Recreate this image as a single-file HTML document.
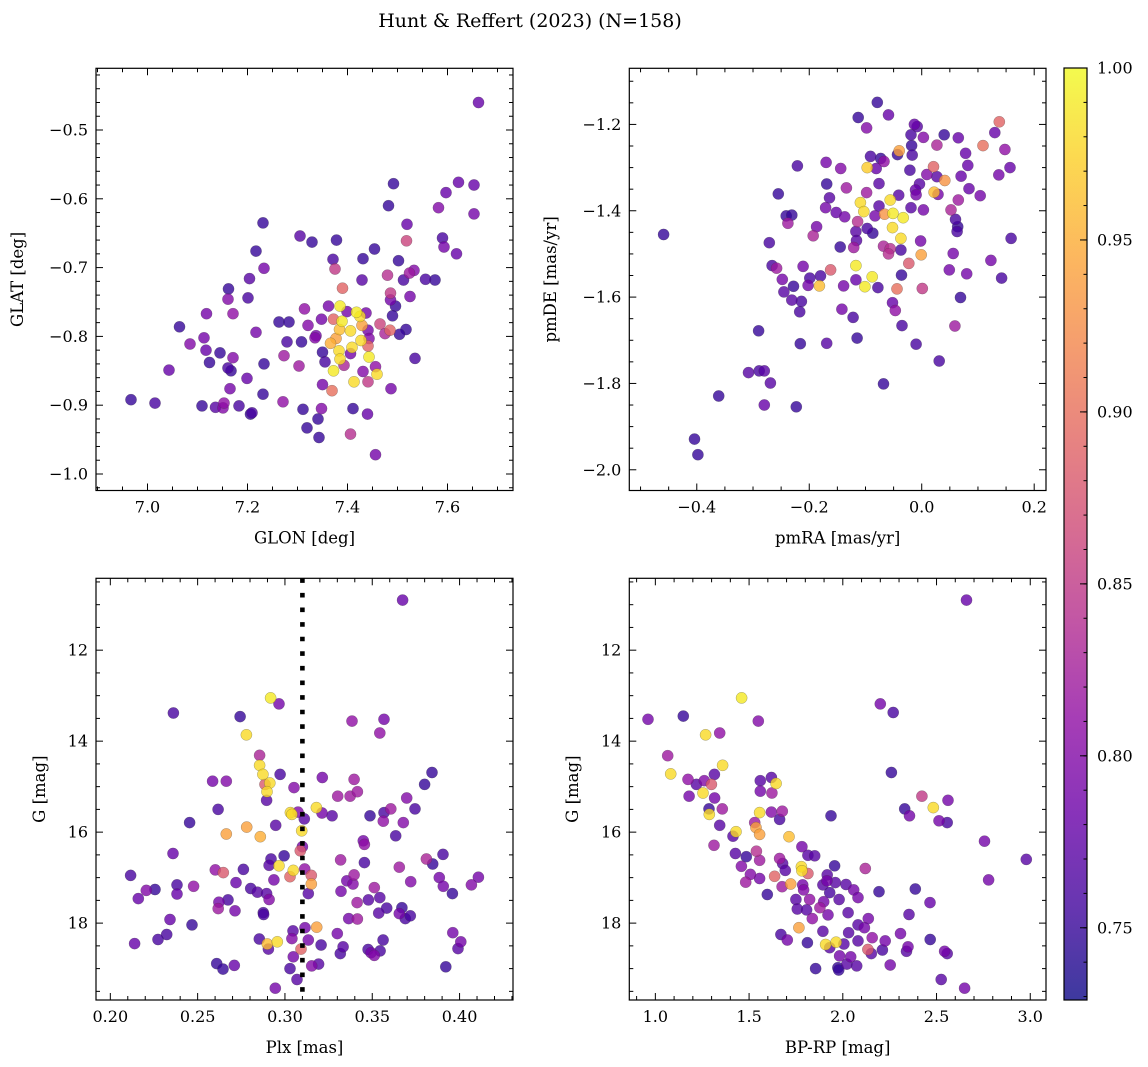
<!DOCTYPE html>
<html><head><meta charset="utf-8"><style>
html,body{margin:0;padding:0;background:#fff;}
svg{display:block;font-family:"DejaVu Serif","Liberation Serif",serif;}
</style></head><body>
<svg id="fig" width="1148" height="1067" viewBox="0 0 1148 1067" xmlns="http://www.w3.org/2000/svg">
<rect x="0" y="0" width="1148" height="1067" fill="#fff"/>
<text x="530" y="27" font-size="19" text-anchor="middle" fill="#000">Hunt &amp; Reffert (2023) (N=158)</text>
</svg>
<script>
// ---------- Data ----------
const glon=[7.662,7.492,7.482,7.622,7.653,7.597,7.582,7.653,7.231,7.519,7.305,7.329,7.378,7.518,7.590,7.593,7.618,7.454,7.217,7.371,7.431,7.502,7.233,7.375,7.480,7.533,7.524,7.556,7.575,7.512,7.429,7.204,7.390,7.162,7.161,7.201,7.486,7.486,7.525,7.496,7.490,7.118,7.171,7.314,7.362,7.385,7.418,7.425,7.437,7.399,7.372,7.348,7.389,7.429,7.263,7.283,7.321,7.465,7.485,7.475,7.517,7.504,7.064,7.217,7.113,7.337,7.335,7.406,7.384,7.377,7.441,7.427,7.443,7.279,7.308,7.085,7.366,7.409,7.441,7.117,7.383,7.406,7.350,7.145,7.273,7.171,7.443,7.535,7.385,7.124,7.355,7.233,7.303,7.393,7.456,7.161,7.167,7.372,7.043,7.431,7.459,7.199,7.413,7.441,7.350,7.165,7.487,7.369,7.231,6.967,7.015,7.109,7.136,7.153,7.151,7.183,7.206,7.209,7.271,7.311,7.348,7.411,7.440,7.341,7.319,7.343,7.406,7.456];
const glat=[-0.460,-0.578,-0.610,-0.576,-0.580,-0.591,-0.613,-0.622,-0.635,-0.637,-0.654,-0.663,-0.660,-0.661,-0.657,-0.670,-0.680,-0.673,-0.676,-0.688,-0.687,-0.690,-0.701,-0.702,-0.711,-0.704,-0.708,-0.717,-0.718,-0.718,-0.718,-0.716,-0.730,-0.731,-0.746,-0.744,-0.737,-0.747,-0.742,-0.756,-0.770,-0.767,-0.767,-0.760,-0.756,-0.756,-0.765,-0.771,-0.766,-0.764,-0.775,-0.775,-0.778,-0.784,-0.779,-0.779,-0.784,-0.782,-0.791,-0.796,-0.790,-0.797,-0.786,-0.794,-0.802,-0.799,-0.802,-0.792,-0.790,-0.803,-0.791,-0.806,-0.803,-0.808,-0.808,-0.811,-0.810,-0.816,-0.814,-0.820,-0.821,-0.825,-0.823,-0.824,-0.828,-0.831,-0.830,-0.832,-0.833,-0.838,-0.837,-0.840,-0.843,-0.842,-0.844,-0.846,-0.850,-0.850,-0.849,-0.851,-0.855,-0.861,-0.866,-0.866,-0.870,-0.876,-0.876,-0.879,-0.884,-0.892,-0.897,-0.901,-0.903,-0.897,-0.904,-0.901,-0.913,-0.911,-0.895,-0.906,-0.905,-0.905,-0.913,-0.920,-0.933,-0.947,-0.942,-0.972];
const prob1=[.78,.75,.75,.78,.78,.78,.80,.79,.75,.78,.77,.75,.75,.86,.76,.79,.78,.75,.75,.76,.75,.75,.79,.85,.84,.80,.82,.76,.75,.76,.77,.77,.89,.75,.80,.76,.85,.79,.79,.75,.75,.79,.81,.81,.79,.99,.99,.98,.79,.79,.89,.79,.99,.94,.75,.75,.80,.86,.89,.83,.75,.75,.75,.79,.79,.79,.80,.98,.96,.94,.79,.98,.80,.76,.75,.80,.95,.98,.89,.78,.98,.79,.75,.75,.82,.80,.99,.76,.98,.75,.76,.75,.82,.83,.81,.76,.75,.99,.78,.80,.98,.78,.98,.85,.79,.79,.79,.90,.75,.75,.76,.75,.77,.81,.80,.76,.75,.76,.81,.75,.80,.75,.78,.75,.75,.75,.84,.79];

const pmra=[-0.079,-0.113,-0.059,-0.098,-0.013,-0.008,0.003,-0.019,0.040,0.065,0.138,0.130,0.109,0.148,0.027,-0.018,-0.040,-0.043,-0.017,0.078,-0.091,-0.073,-0.067,-0.081,-0.097,-0.221,-0.170,-0.144,-0.021,0.021,0.082,0.157,0.137,0.009,0.041,0.027,0.070,-0.076,-0.004,-0.169,-0.134,0.084,0.022,0.029,-0.011,0.104,-0.255,-0.098,-0.041,-0.010,-0.164,-0.056,0.065,-0.109,-0.171,-0.076,-0.019,0.003,0.052,-0.103,-0.152,-0.066,-0.051,-0.033,-0.137,-0.083,-0.241,-0.231,-0.238,0.060,0.064,0.063,-0.114,-0.097,-0.087,-0.052,-0.037,-0.187,-0.193,-0.459,0.159,-0.117,-0.116,-0.002,-0.271,-0.145,-0.121,-0.068,-0.056,-0.059,-0.037,-0.001,0.056,0.123,-0.023,-0.266,-0.258,-0.211,-0.162,-0.117,0.049,0.080,0.142,-0.036,-0.088,-0.199,-0.180,-0.248,-0.202,-0.182,-0.228,-0.139,-0.117,-0.101,-0.078,-0.044,0.001,-0.245,-0.231,-0.214,-0.217,0.069,-0.052,-0.047,-0.142,-0.122,-0.035,0.059,-0.115,-0.290,-0.216,-0.169,-0.010,0.031,-0.308,-0.289,-0.280,-0.269,-0.068,-0.361,-0.280,-0.223,-0.404,-0.398];
const pmde=[-1.149,-1.184,-1.178,-1.208,-1.200,-1.205,-1.230,-1.224,-1.224,-1.231,-1.194,-1.219,-1.249,-1.258,-1.248,-1.249,-1.261,-1.270,-1.271,-1.267,-1.274,-1.279,-1.286,-1.302,-1.300,-1.296,-1.288,-1.302,-1.306,-1.298,-1.295,-1.300,-1.317,-1.316,-1.330,-1.321,-1.320,-1.337,-1.338,-1.338,-1.347,-1.349,-1.357,-1.362,-1.352,-1.365,-1.361,-1.358,-1.364,-1.363,-1.370,-1.375,-1.375,-1.381,-1.393,-1.389,-1.393,-1.398,-1.398,-1.402,-1.404,-1.408,-1.406,-1.416,-1.414,-1.412,-1.412,-1.410,-1.429,-1.420,-1.437,-1.448,-1.425,-1.441,-1.452,-1.439,-1.464,-1.437,-1.458,-1.455,-1.464,-1.448,-1.469,-1.470,-1.474,-1.484,-1.485,-1.482,-1.488,-1.500,-1.491,-1.502,-1.499,-1.515,-1.522,-1.527,-1.533,-1.529,-1.537,-1.527,-1.537,-1.546,-1.556,-1.549,-1.553,-1.556,-1.551,-1.559,-1.573,-1.574,-1.575,-1.574,-1.560,-1.576,-1.578,-1.581,-1.580,-1.588,-1.607,-1.610,-1.634,-1.601,-1.613,-1.631,-1.628,-1.647,-1.666,-1.667,-1.695,-1.678,-1.708,-1.707,-1.709,-1.748,-1.775,-1.771,-1.771,-1.799,-1.801,-1.829,-1.850,-1.854,-1.929,-1.965];
const prob2=[.75,.75,.78,.80,.78,.77,.80,.76,.75,.78,.89,.78,.90,.81,.83,.75,.94,.75,.76,.78,.76,.75,.81,.78,.97,.76,.79,.80,.76,.89,.78,.78,.79,.80,.93,.77,.78,.77,.77,.75,.82,.78,.96,.79,.78,.79,.75,.82,.77,.79,.77,.98,.82,.98,.79,.77,.77,.79,.83,.98,.78,.93,.99,.99,.79,.79,.75,.75,.82,.76,.75,.76,.84,.76,.75,.98,.98,.79,.83,.75,.76,.77,.77,.79,.76,.75,.82,.83,.84,.84,.76,.94,.79,.79,.88,.76,.82,.79,.88,.99,.79,.79,.76,.75,.99,.76,.76,.79,.79,.96,.75,.79,.78,.99,.76,.90,.85,.77,.77,.76,.76,.75,.78,.81,.79,.76,.76,.82,.75,.75,.75,.77,.76,.76,.77,.76,.77,.77,.75,.75,.78,.75,.75,.75];

const plx=[0.3674,0.2918,0.2966,0.2361,0.2743,0.3384,0.3567,0.3543,0.2779,0.2855,0.2855,0.2874,0.2913,0.2886,0.2897,0.2895,0.2972,0.2586,0.2664,0.3052,0.3214,0.3396,0.3302,0.3373,0.3415,0.3842,0.3800,0.3697,0.2617,0.3180,0.3212,0.3270,0.3031,0.3040,0.3075,0.3111,0.3606,0.3745,0.3487,0.3567,0.3563,0.3678,0.2454,0.2947,0.2664,0.2781,0.2859,0.3096,0.3634,0.3449,0.3455,0.3100,0.3088,0.2359,0.2920,0.2995,0.2909,0.2966,0.3048,0.3113,0.3319,0.3455,0.3810,0.3905,0.3846,0.3655,0.2601,0.2647,0.2762,0.2116,0.3029,0.3151,0.3151,0.2937,0.2720,0.3396,0.3354,0.3390,0.3720,0.3884,0.3907,0.4108,0.4068,0.2382,0.2477,0.2256,0.2206,0.2382,0.2160,0.2804,0.2842,0.2895,0.2909,0.3134,0.3321,0.3512,0.3959,0.3478,0.3543,0.3413,0.2674,0.2622,0.2618,0.2714,0.2876,0.2878,0.3537,0.3583,0.3670,0.3655,0.3689,0.3718,0.3365,0.3415,0.2342,0.2468,0.3182,0.3115,0.3046,0.3300,0.3961,0.2323,0.2273,0.2139,0.2853,0.2899,0.2956,0.2905,0.3040,0.3134,0.3092,0.3207,0.3333,0.3317,0.4007,0.3991,0.3476,0.3493,0.3512,0.3545,0.3562,0.3048,0.2609,0.2645,0.2710,0.3153,0.3193,0.3029,0.3069,0.3921,0.2945];
const gmag3=[10.90,13.05,13.18,13.38,13.46,13.56,13.52,13.82,13.86,14.31,14.53,14.73,14.92,14.95,15.11,15.30,14.73,14.88,14.88,15.02,14.80,14.84,15.21,15.21,15.11,14.69,14.95,15.25,15.50,15.46,15.58,15.64,15.57,15.61,15.56,15.71,15.49,15.49,15.64,15.57,15.76,15.79,15.79,15.85,16.04,15.89,16.10,15.97,16.08,16.19,16.27,16.32,16.41,16.47,16.59,16.52,16.73,16.74,16.84,16.81,16.61,16.67,16.59,16.49,16.70,16.77,16.83,16.89,16.82,16.95,16.98,16.95,17.14,17.05,17.11,16.94,17.07,17.14,17.09,17.00,17.19,16.99,17.16,17.16,17.19,17.26,17.28,17.36,17.46,17.24,17.32,17.35,17.48,17.35,17.30,17.22,17.35,17.49,17.44,17.55,17.49,17.54,17.68,17.73,17.77,17.81,17.78,17.67,17.66,17.79,17.90,17.84,17.90,17.91,17.92,18.04,18.09,18.10,18.17,18.23,18.21,18.25,18.36,18.45,18.35,18.46,18.41,18.57,18.34,18.37,18.57,18.48,18.52,18.67,18.41,18.56,18.58,18.65,18.71,18.61,18.37,18.74,18.89,19.01,18.93,18.94,18.90,19.00,19.24,18.96,19.43];
const prob3=[.78,.99,.79,.76,.75,.81,.79,.81,.98,.83,.98,.98,.98,.88,.98,.77,.76,.79,.80,.80,.79,.82,.82,.82,.82,.75,.75,.80,.76,.98,.79,.77,.98,.98,.80,.77,.82,.76,.75,.76,.81,.80,.75,.77,.94,.94,.95,.98,.76,.79,.81,.79,.88,.78,.76,.75,.77,.98,.98,.81,.82,.76,.83,.76,.75,.82,.81,.88,.76,.76,.89,.88,.94,.79,.78,.82,.79,.80,.80,.79,.79,.79,.80,.76,.81,.75,.80,.78,.78,.76,.77,.77,.80,.77,.79,.82,.75,.77,.77,.82,.76,.79,.82,.79,.76,.76,.77,.76,.75,.79,.76,.76,.79,.82,.78,.75,.94,.79,.77,.79,.79,.76,.76,.78,.76,.96,.98,.77,.80,.79,.89,.76,.77,.76,.79,.77,.76,.79,.80,.76,.76,.79,.75,.75,.78,.80,.77,.76,.77,.75,.79];

const bprp=[2.660,1.460,2.200,2.269,0.961,1.149,1.549,1.268,1.343,1.066,1.359,1.082,2.259,1.315,1.174,1.219,1.261,1.299,1.180,1.254,1.316,1.560,1.619,1.560,1.622,1.644,2.422,2.483,2.561,1.286,1.288,1.357,1.556,1.619,1.677,1.663,1.937,2.330,2.356,2.513,2.557,1.343,1.530,1.537,1.556,1.430,1.414,1.713,1.313,2.756,2.979,1.427,1.539,1.485,1.556,1.459,1.507,1.482,1.556,1.663,1.679,1.693,1.636,1.676,1.722,1.782,1.814,1.850,1.779,1.782,1.814,1.956,1.917,2.120,1.597,1.786,1.894,1.915,1.960,2.017,2.058,2.081,1.930,1.980,1.791,1.750,1.823,1.898,1.757,1.807,1.878,1.921,1.837,2.028,2.193,2.387,2.465,2.353,2.778,2.081,2.136,2.115,1.766,1.894,2.031,1.670,1.704,1.811,1.908,1.964,1.930,2.006,2.081,2.157,2.226,2.308,2.466,2.134,2.152,2.211,2.348,2.340,2.543,2.557,1.983,2.042,2.022,2.074,1.974,1.978,1.855,2.253,2.525,2.650];
const gmag4=[10.90,13.05,13.18,13.37,13.52,13.45,13.56,13.86,13.82,14.32,14.53,14.72,14.69,14.73,14.84,14.95,14.87,14.95,15.21,15.14,15.25,14.87,14.80,15.10,15.14,14.93,15.21,15.46,15.30,15.49,15.61,15.49,15.57,15.56,15.54,15.72,15.64,15.49,15.64,15.75,15.79,15.85,15.79,15.90,16.05,15.99,16.09,16.10,16.29,16.20,16.60,16.47,16.42,16.54,16.62,16.75,16.93,17.10,17.02,16.58,16.69,16.84,16.97,17.20,17.14,16.32,16.51,16.52,16.76,16.85,16.91,16.74,16.94,16.80,17.37,17.16,17.16,17.07,17.11,17.15,17.27,17.44,17.33,17.48,17.27,17.48,17.48,17.53,17.69,17.71,17.66,17.82,17.90,17.77,17.31,17.25,17.55,17.81,17.05,18.04,17.90,18.10,18.10,18.18,18.21,18.25,18.37,18.43,18.47,18.42,18.54,18.46,18.39,18.32,18.39,18.23,18.36,18.58,18.67,18.59,18.52,18.62,18.62,18.67,18.72,18.74,18.90,18.94,18.98,19.03,19.00,18.92,19.24,19.43];
const prob4=[.78,.99,.79,.76,.79,.75,.80,.98,.81,.82,.98,.98,.75,.77,.81,.77,.80,.88,.79,.98,.79,.77,.77,.79,.82,.98,.85,.98,.79,.75,.98,.82,.98,.80,.82,.76,.75,.75,.79,.79,.76,.77,.82,.94,.94,.98,.77,.96,.82,.79,.77,.77,.84,.75,.82,.80,.80,.82,.79,.82,.77,.77,.89,.82,.94,.79,.77,.77,.98,.98,.88,.75,.77,.83,.75,.79,.77,.79,.77,.77,.79,.79,.76,.77,.80,.77,.81,.79,.77,.77,.82,.79,.81,.77,.75,.75,.78,.77,.79,.77,.79,.79,.94,.77,.77,.76,.79,.75,.98,.98,.77,.77,.77,.81,.79,.79,.75,.88,.77,.76,.79,.77,.79,.77,.79,.79,.77,.77,.75,.75,.75,.79,.77,.79];

const cbTicks=[0.75,0.80,0.85,0.90,0.95,1.00];
const parallaxLine=[0.31];

// ---------- Helpers ----------
const NS="http://www.w3.org/2000/svg";
const svg=document.getElementById('fig');
const VMIN=0.729, VMAX=1.0;
const plasma=[[13,8,135],[65,4,157],[106,0,168],[143,13,164],[177,42,144],[204,71,120],[225,100,98],[242,132,75],[252,166,54],[252,206,37],[240,249,33]];
function cmap(v){
  let t=(v-VMIN)/(VMAX-VMIN); t=Math.max(0,Math.min(1,t));
  const f=t*10, i=Math.min(9,Math.floor(f)), r=f-i;
  const a=plasma[i], b=plasma[i+1];
  return 'rgb('+[0,1,2].map(k=>Math.round(a[k]+(b[k]-a[k])*r)).join(',')+')';
}
function mk(tag,attrs,parent){
  const e=document.createElementNS(NS,tag);
  for(const k in attrs) e.setAttribute(k,attrs[k]);
  (parent||svg).appendChild(e); return e;
}
function fmt(v,d){return (v<0?'\u2212':'')+Math.abs(v).toFixed(d);}

function panel(cfg){
  const g=mk('g',{});
  
  
  const L=cfg.box[0],T=cfg.box[1],R=cfg.box[2],B=cfg.box[3];
  const sx=v=>L+(v-cfg.xd[0])/(cfg.xd[1]-cfg.xd[0])*(R-L);
  const sy=v=>cfg.yinv? T+(v-cfg.yd[0])/(cfg.yd[1]-cfg.yd[0])*(B-T) : B-(v-cfg.yd[0])/(cfg.yd[1]-cfg.yd[0])*(B-T);
  const clip='clip'+cfg.name;
  const cp=mk('clipPath',{id:clip},g); mk('rect',{x:L,y:T,width:R-L,height:B-T},cp);
  const pg=mk('g',{'clip-path':'url(#'+clip+')'},g);
  const idx=cfg.x.map((_,i)=>i).sort((a,b)=>cfg.c[a]-cfg.c[b]);
  idx.forEach(i=>{
    const c=mk('circle',{cx:sx(cfg.x[i]).toFixed(1),cy:sy(cfg.y[i]).toFixed(1),r:5.6,fill:cmap(cfg.c[i]),'fill-opacity':0.8,stroke:'rgba(60,60,60,0.45)','stroke-width':0.5},pg);
    
    
  });
  if(cfg.vline){
    cfg.vline.forEach(v=>{
      const l=mk('line',{x1:sx(v),x2:sx(v),y1:T,y2:B,stroke:'#000','stroke-width':4.6,'stroke-dasharray':'4.6 10'},pg);
      
      
    });
  }
  const tg=mk('g',{stroke:'#000','stroke-width':1},g);
  const eps=1e-9;
  function range(a,b,s){const o=[];let k=Math.ceil((a-eps)/s);for(;k*s<=b+eps;k++)o.push(+(k*s).toFixed(6));return o;}
  range(cfg.xd[0],cfg.xd[1],cfg.xminor).forEach(v=>{
    const x=sx(v); const maj=Math.abs(v/cfg.xmajor-Math.round(v/cfg.xmajor))<1e-6; const len=maj?7:4;
    mk('line',{x1:x,x2:x,y1:B,y2:B-len},tg); mk('line',{x1:x,x2:x,y1:T,y2:T+len},tg);
    if(maj){const t=mk('text',{x:x,y:B+22,'font-size':16,'text-anchor':'middle',stroke:'none',fill:'#000'},g);t.textContent=fmt(v,cfg.xdec);
      
      }
  });
  range(Math.min(cfg.yd[0],cfg.yd[1]),Math.max(cfg.yd[0],cfg.yd[1]),cfg.yminor).forEach(v=>{
    const y=sy(v); const maj=Math.abs(v/cfg.ymajor-Math.round(v/cfg.ymajor))<1e-6; const len=maj?7:4;
    mk('line',{x1:L,x2:L+len,y1:y,y2:y},tg); mk('line',{x1:R,x2:R-len,y1:y,y2:y},tg);
    if(maj){const t=mk('text',{x:L-8,y:y+5.5,'font-size':16,'text-anchor':'end',stroke:'none',fill:'#000'},g);t.textContent=fmt(v,cfg.ydec);
      
      }
  });
  const fr=mk('rect',{x:L,y:T,width:R-L,height:B-T,fill:'none',stroke:'#000','stroke-width':1.2},g);
  
  
  const xl=mk('text',{x:(L+R)/2,y:B+53,'font-size':16.5,'text-anchor':'middle',fill:'#000'},g);
  xl.textContent=cfg.xlab;
  
  
  const yl=mk('text',{x:0,y:0,'font-size':16.5,'text-anchor':'middle',fill:'#000',transform:'translate('+cfg.ylx+','+((T+B)/2)+') rotate(-90)'},g);
  yl.textContent=cfg.ylab;
  
  
}

panel({name:'glon-glat-panel',box:[96,68.3,513,490.5],xd:[6.897,7.731],yd:[-1.024,-0.4103],x:glon,y:glat,c:prob1,
  xmajor:0.2,xminor:0.05,ymajor:0.1,yminor:0.02,xdec:1,ydec:1,xlab:'GLON [deg]',ylab:'GLAT [deg]',ylx:23});
panel({name:'proper-motion-panel',box:[629.3,68.3,1046,490.5],xd:[-0.520,0.221],yd:[-2.048,-1.070],x:pmra,y:pmde,c:prob2,
  xmajor:0.2,xminor:0.05,ymajor:0.2,yminor:0.05,xdec:1,ydec:1,xlab:'pmRA [mas/yr]',ylab:'pmDE [mas/yr]',ylx:556});
panel({name:'parallax-magnitude-panel',box:[96,578.3,513,1000],xd:[0.1918,0.4306],yd:[10.42,19.69],yinv:true,x:plx,y:gmag3,c:prob3,vline:parallaxLine,
  xmajor:0.05,xminor:0.01,ymajor:2,yminor:0.5,xdec:2,ydec:0,xlab:'Plx [mas]',ylab:'G [mag]',ylx:45});
panel({name:'color-magnitude-panel',box:[629.3,578.3,1046,1000],xd:[0.861,3.084],yd:[10.42,19.69],yinv:true,x:bprp,y:gmag4,c:prob4,
  xmajor:0.5,xminor:0.1,ymajor:2,yminor:0.5,xdec:1,ydec:0,xlab:'BP-RP [mag]',ylab:'G [mag]',ylx:578});

// ---------- Colorbar ----------
(function(){
  const L=1064,R=1087,T=68,B=1000;
  const g=mk('g',{});
  
  
  const defs=mk('defs',{},g);
  const lg=mk('linearGradient',{id:'cbgrad',x1:0,y1:1,x2:0,y2:0},defs);
  plasma.forEach((c,i)=>mk('stop',{offset:(i/10),'stop-color':'rgb('+c.join(',')+')'},lg));
  mk('rect',{x:L,y:T,width:R-L,height:B-T,fill:'url(#cbgrad)','fill-opacity':0.8},g);
  const sy=v=>B-(v-VMIN)/(VMAX-VMIN)*(B-T);
  for(let v=0.73;v<=1.0001;v+=0.01){
    const y=sy(v); mk('line',{x1:R,x2:R-3.5,y1:y,y2:y,stroke:'#000','stroke-width':1},g);
  }
  cbTicks.forEach(v=>{
    const y=sy(v);
    mk('line',{x1:R,x2:R-7,y1:y,y2:y,stroke:'#000','stroke-width':1},g);
    const t=mk('text',{x:R+10,y:y+5.5,'font-size':16,fill:'#000'},g);
    t.textContent=v.toFixed(2);
    
    
  });
  mk('rect',{x:L,y:T,width:R-L,height:B-T,fill:'none',stroke:'#000','stroke-width':1.2},g);
})();
</script>
</body></html>
